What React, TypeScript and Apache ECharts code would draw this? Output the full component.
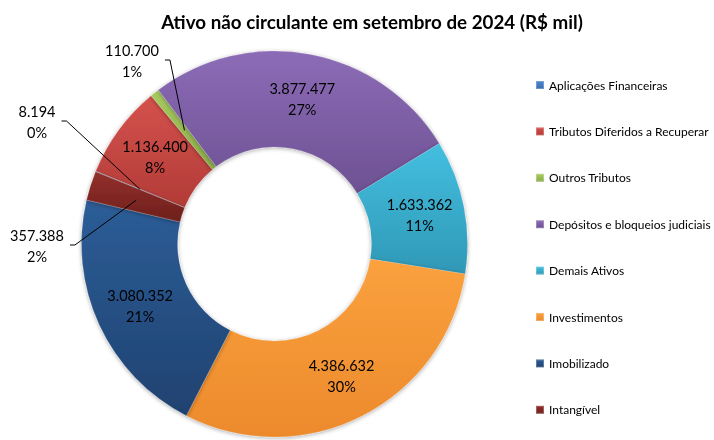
import React, { useEffect, useRef } from "react";
import * as echarts from "echarts";

// ---- data ----
const titleText = "Ativo não circulante em setembro de 2024 (R$ mil)";
const categories = [
  "Aplicações Financeiras",
  "Tributos Diferidos a Recuperar",
  "Outros Tributos",
  "Depósitos e bloqueios judiciais",
  "Demais Ativos",
  "Investimentos",
  "Imobilizado",
  "Intangível",
];
const values = [8194, 1136400, 110700, 3877477, 1633362, 4386632, 3080352, 357388];

// ---- styles ----
const colorTop = ["#4a86cf", "#d4524d", "#a8cc60", "#8c6cb6", "#44bfe0", "#fba13e", "#2d5d97", "#93302b"];
const colorBottom = ["#3a6fae", "#b23b37", "#8aab4b", "#6d5193", "#2f98b6", "#ec8a2c", "#1f4270", "#6e1f1c"];
const FONT = "Lato, 'Open Sans', sans-serif";
const CX = 274.5;
const CY = 244;
const R0 = 97;
const R1 = 193;
const START = 158;
// label anchor positions for the small slices (index -> [x, y])
const outsideLabelPos: Record<number, [number, number]> = {
  0: [37, 122],
  2: [132, 61],
  7: [37, 246],
};

const fmt = (v: number) => String(v).replace(/\B(?=(\d{3})+(?!\d))/g, ".");
const labelFormatter = (p: any) => `${fmt(p.value)}\n${Math.round(p.percent)}%`;

export default function App() {
  const ref = useRef<HTMLDivElement>(null);
  useEffect(() => {
    if (!ref.current) return;
    document.body.style.margin = "0";
    const chart = echarts.init(ref.current, null, { renderer: "svg" });
    const total = values.reduce((a, b) => a + b, 0);
    const cum: number[] = [];
    let acc = 0;
    values.forEach((v) => {
      cum.push(acc);
      acc += v;
    });
    const midR = (R0 + R1) / 2;

    const mainData = categories.map((name, i) => ({
      name,
      value: values[i],
      itemStyle: {
        color: new echarts.graphic.LinearGradient(0, 0, 0, 1, [
          { offset: 0, color: colorTop[i] },
          { offset: 1, color: colorBottom[i] },
        ]),
      },
      label: { show: !outsideLabelPos[i] },
    }));

    const overlayData = categories.map((name, i) => ({
      name,
      value: values[i],
      label: { show: !!outsideLabelPos[i] },
      labelLine: { show: !!outsideLabelPos[i] },
    }));

    chart.setOption({
      animation: false,
      title: {
        text: titleText,
        left: 367,
        top: 7,
        textAlign: "center",
        textStyle: { fontFamily: FONT, fontWeight: "bold", fontSize: 18.8, color: "#000" },
      },
      legend: {
        orient: "vertical",
        left: 535,
        top: 78,
        padding: 0,
        itemWidth: 8,
        itemHeight: 8,
        itemGap: 32.4,
        icon: "rect",
        data: categories,
        textStyle: { fontFamily: FONT, fontSize: 12, color: "#000", lineHeight: 14 },
      },
      series: [
        {
          type: "pie",
          z: 2,
          center: [CX, CY],
          radius: [R0, R1],
          startAngle: START,
          clockwise: true,
          avoidLabelOverlap: false,
          data: mainData,
          itemStyle: {
            borderColor: "rgba(255,255,255,0.25)",
            borderWidth: 0.6,
            shadowBlur: 4,
            shadowColor: "rgba(0,0,0,0.35)",
            shadowOffsetY: 1,
          },
          label: {
            position: "inside",
            fontFamily: FONT,
            fontSize: 14.5,
            lineHeight: 21,
            color: "#000",
            formatter: labelFormatter,
          },
          labelLine: { show: false },
        },
        {
          type: "pie",
          z: 5,
          silent: true,
          legendHoverLink: false,
          center: [CX, CY],
          radius: [R0, R1],
          startAngle: START,
          clockwise: true,
          avoidLabelOverlap: false,
          data: overlayData,
          itemStyle: { color: "rgba(0,0,0,0)", borderWidth: 0 },
          label: {
            position: "outside",
            fontFamily: FONT,
            fontSize: 14.5,
            lineHeight: 21,
            color: "#000",
            formatter: labelFormatter,
          },
          labelLine: {
            lineStyle: { color: "#000", width: 1 },
          },
          labelLayout: (params: any) => {
            const pos = outsideLabelPos[params.dataIndex];
            if (!pos) return {};
            const i = params.dataIndex;
            const midDeg = ((cum[i] + values[i] / 2) / total) * 360;
            const a = ((START - midDeg) * Math.PI) / 180;
            const p0 = [CX + midR * Math.cos(a), CY - midR * Math.sin(a)];
            const w = params.labelRect.width;
            const xr = pos[0] + w / 2 + 6;
            const p2 = [xr, pos[1] - 1];
            const p1 = [xr + 5, pos[1] - 1];
            return {
              x: pos[0],
              y: pos[1],
              align: "center",
              verticalAlign: "middle",
              labelLinePoints: [p0, p1, p2],
            };
          },
        },
      ],
    });
    return () => chart.dispose();
  }, []);
  return <div ref={ref} style={{ position: "fixed", left: 0, top: 0, width: 714, height: 440 }} />;
}
